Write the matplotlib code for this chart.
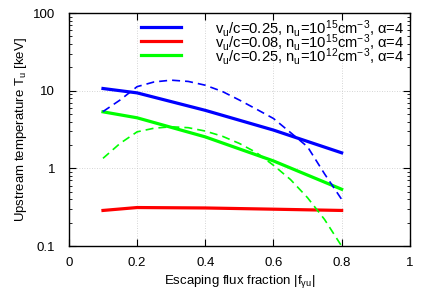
import matplotlib
matplotlib.use("Agg")
import matplotlib.pyplot as plt
import numpy as np
from matplotlib.ticker import FixedLocator, LogLocator, NullFormatter, FixedFormatter
from matplotlib.lines import Line2D

plt.rcParams['font.family'] = ['Liberation Sans', 'DejaVu Sans']
plt.rcParams['mathtext.fontset'] = 'custom'
plt.rcParams['mathtext.rm'] = 'Liberation Sans'
plt.rcParams['mathtext.it'] = 'Liberation Sans'
plt.rcParams['mathtext.default'] = 'rm'

# Solid curves (sampled at a few points)
x_solid = [0.1, 0.2, 0.4, 0.6, 0.8]
blue_solid = [10.7, 9.4, 5.6, 3.12, 1.59]
red_solid = [0.288, 0.314, 0.31, 0.299, 0.288]
green_solid = [5.36, 4.49, 2.55, 1.25, 0.54]

# Dashed curves
x_dash = [0.1, 0.15, 0.2, 0.25, 0.3, 0.35, 0.4, 0.45, 0.5, 0.55, 0.6, 0.65, 0.7, 0.75, 0.8]
blue_dash = [5.4, 7.6, 11.3, 13.0, 13.7, 13.2, 11.8, 9.8, 7.6, 5.8, 4.4, 2.9, 1.9, 0.85, 0.40]
green_dash = [1.35, 2.1, 2.96, 3.3, 3.44, 3.35, 3.03, 2.6, 2.1, 1.6, 1.10, 0.72, 0.42, 0.22, 0.10]

labels = [
    r'v$_\mathrm{u}$/c=0.25, n$_\mathrm{u}$=10$^{15}$cm$^{-3}$, α=4',
    r'v$_\mathrm{u}$/c=0.08, n$_\mathrm{u}$=10$^{15}$cm$^{-3}$, α=4',
    r'v$_\mathrm{u}$/c=0.25, n$_\mathrm{u}$=10$^{12}$cm$^{-3}$, α=4',
]
colors = ['#0000ff', '#ff0000', '#00ff00']

xticks = [0, 0.2, 0.4, 0.6, 0.8, 1]
xticklabels = ['0', '0.2', '0.4', '0.6', '0.8', '1']
yticks = [0.1, 1, 10, 100]
yticklabels = ['0.1', '1', '10', '100']

fig = plt.figure(figsize=(4.36, 3.05), dpi=100)
ax = fig.add_axes([0.158, 0.193, 0.782, 0.764])

for ys, c in zip([blue_solid, red_solid, green_solid], colors):
    ax.plot(x_solid, ys, color=c, lw=2.3)
ax.plot(x_dash, blue_dash, color=colors[0], lw=1.2, dashes=(4.8, 3.0))
ax.plot(x_dash, green_dash, color=colors[2], lw=1.2, dashes=(4.8, 3.0))

ax.set_yscale('log')
ax.set_xlim(0, 1)
ax.set_ylim(0.1, 100)
ax.xaxis.set_major_locator(FixedLocator(xticks))
ax.xaxis.set_major_formatter(FixedFormatter(xticklabels))
ax.yaxis.set_major_locator(FixedLocator(yticks))
ax.yaxis.set_major_formatter(FixedFormatter(yticklabels))
ax.yaxis.set_minor_locator(LogLocator(base=10, subs=np.arange(2, 10)))
ax.yaxis.set_minor_formatter(NullFormatter())

ax.tick_params(which='both', direction='in', top=True, right=True, labelsize=9.5)
ax.tick_params(which='major', length=5, width=0.8)
ax.tick_params(which='minor', length=2.5, width=0.6)
ax.tick_params(axis='x', pad=8)
ax.tick_params(axis='y', pad=10)
for s in ax.spines.values():
    s.set_linewidth(1.0)

ax.grid(True, which='major', linestyle=(0, (1, 2)), color='#c8c8c8', lw=0.6)

ax.set_xlabel(r'Escaping flux fraction |f$_{\mathrm{γu}}$|', fontsize=9.5, labelpad=3)
ax.set_ylabel(r'Upstream temperature T$_\mathrm{u}$ [keV]', fontsize=9.5, labelpad=3)

# Gnuplot-style key
line_y = [0.941, 0.879, 0.820]
text_y = [0.913, 0.850, 0.791]
for lab, c, ly, ty in zip(labels, colors, line_y, text_y):
    ax.add_line(Line2D([0.211, 0.328], [ly, ly], transform=ax.transAxes,
                       color=c, lw=2.3, clip_on=False))
    ax.text(0.985, ty, lab, transform=ax.transAxes, ha='right', va='baseline',
            fontsize=10.6)

fig.savefig('out.png', dpi=100)
